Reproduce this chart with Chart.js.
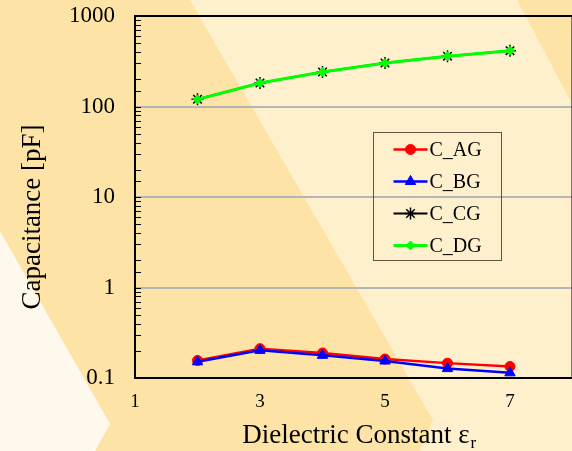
<!DOCTYPE html>
<html>
<head>
<meta charset="utf-8">
<script src="https://cdn.jsdelivr.net/npm/chart.js@4.4.1/dist/chart.umd.min.js"></script>
<style>
html, body { margin: 0; padding: 0; overflow: hidden; background: #FDE4A6; }
#wrap { width: 580px; height: 451px; }
</style>
</head>
<body>
<div id="wrap"><canvas id="capChart" width="580" height="451"></canvas></div>
<script>
// values
var epsilon = [2, 3, 4, 5, 6, 7];
var cAG = [0.156, 0.211, 0.189, 0.162, 0.146, 0.134];
var cBG = [0.151, 0.202, 0.178, 0.154, 0.127, 0.114];
var cCG = [120, 182, 241, 302, 360, 414];
var cDG = [120, 182, 241, 302, 360, 414];
var seriesNames = ['C_AG', 'C_BG', 'C_CG', 'C_DG'];
var xTickValues = [1, 3, 5, 7];

var serif = "'Liberation Serif', 'Times New Roman', serif";

function pts(ys) {
  return epsilon.map(function (x, i) { return { x: x, y: ys[i] }; });
}

function poly(ctx, p) {
  ctx.beginPath();
  ctx.moveTo(p[0][0], p[0][1]);
  for (var i = 1; i < p.length; i++) ctx.lineTo(p[i][0], p[i][1]);
  ctx.closePath();
  ctx.fill();
}

// slide background stripes
var stripes = {
  id: 'stripes',
  beforeDraw: function (chart) {
    var ctx = chart.ctx, w = chart.width, h = chart.height;
    ctx.save();
    ctx.fillStyle = '#FDE4A6';
    ctx.fillRect(0, 0, w, h);
    ctx.fillStyle = '#FEF0CD';
    poly(ctx, [[190, 0], [w, 0], [w, h], [420, h], [433, 420]]);
    ctx.fillStyle = '#FDE4A6';
    poly(ctx, [[517, 0], [w, 0], [w, 119]]);
    ctx.fillStyle = '#FEF9EC';
    poly(ctx, [[0, 231], [110, 424], [95, h], [0, h]]);
    ctx.restore();
  }
};

function isDecade(v) {
  var l = Math.log10(v);
  return Math.abs(l - Math.round(l)) < 1e-9;
}

// plot frame + inward minor ticks
var frame = {
  id: 'frame',
  beforeDatasetsDraw: function (chart) {
    var ctx = chart.ctx, a = chart.chartArea, ys = chart.scales.y;
    ctx.save();
    ctx.strokeStyle = '#000';
    ctx.lineWidth = 1;
    ys.ticks.forEach(function (t) {
      var py = Math.round(ys.getPixelForValue(t.value)) + 0.5;
      ctx.beginPath();
      ctx.moveTo(a.left, py);
      ctx.lineTo(a.left + 6, py);
      ctx.stroke();
    });
    ctx.lineWidth = 2;
    ctx.strokeRect(a.left, a.top, a.right - a.left, a.bottom - a.top);
    ctx.restore();
  }
};

// axis titles and the boxed legend
var extras = {
  id: 'extras',
  afterDraw: function (chart) {
    var ctx = chart.ctx, a = chart.chartArea;
    ctx.save();
    ctx.fillStyle = '#000';

    // y title
    ctx.font = '27px ' + serif;
    ctx.textAlign = 'center';
    ctx.textBaseline = 'alphabetic';
    ctx.translate(40, 217);
    ctx.rotate(-Math.PI / 2);
    ctx.fillText('Capacitance [pF]', 0, 0);
    ctx.setTransform(1, 0, 0, 1, 0, 0);

    // x title with subscript r
    var main = 'Dielectric Constant \u03b5';
    ctx.font = '27px ' + serif;
    var w1 = ctx.measureText(main).width;
    ctx.font = '17px ' + serif;
    var w2 = ctx.measureText('r').width;
    var cx = (a.left + a.right) / 2 + 5;
    var x0 = cx - (w1 + w2) / 2;
    ctx.textAlign = 'left';
    ctx.font = '27px ' + serif;
    ctx.fillText(main, x0, a.bottom + 65);
    ctx.font = '17px ' + serif;
    ctx.fillText('r', x0 + w1 + 1, a.bottom + 70);

    // legend
    var lx = a.left + 238.5, ly = a.top + 116.5, lw = 128, lh = 128;
    ctx.strokeStyle = '#5e5545';
    ctx.lineWidth = 1;
    ctx.strokeRect(lx, ly, lw, lh);
    ctx.font = '20px ' + serif;
    ctx.textBaseline = 'middle';
    chart.data.datasets.forEach(function (ds, i) {
      var ry = ly + 17 + i * 32;
      ctx.strokeStyle = ds.borderColor;
      ctx.lineWidth = ds.borderWidth;
      ctx.beginPath();
      ctx.moveTo(lx + 20, ry);
      ctx.lineTo(lx + 54, ry);
      ctx.stroke();
      ctx.fillStyle = ds.pointBackgroundColor;
      ctx.strokeStyle = ds.pointBorderColor;
      ctx.lineWidth = ds.pointBorderWidth;
      Chart.helpers.drawPoint(ctx, {
        pointStyle: ds.pointStyle, radius: ds.pointRadius,
        rotation: 0, borderWidth: ds.pointBorderWidth
      }, lx + 37, ry);
      ctx.fillStyle = '#000';
      ctx.fillText(ds.label, lx + 56, ry + 1);
    });
    ctx.restore();
  }
};

var chart = new Chart('capChart', {
  type: 'line',
  data: {
    datasets: [
      {
        label: seriesNames[0], data: pts(cAG), order: 4,
        borderColor: '#ff0000', borderWidth: 2.5,
        pointStyle: 'circle', pointRadius: 5,
        pointBackgroundColor: '#ff0000', pointBorderColor: '#ff0000', pointBorderWidth: 1
      },
      {
        label: seriesNames[1], data: pts(cBG), order: 3,
        borderColor: '#0000ff', borderWidth: 2.5,
        pointStyle: 'triangle', pointRadius: 6,
        pointBackgroundColor: '#0000ff', pointBorderColor: '#0000ff', pointBorderWidth: 1
      },
      {
        label: seriesNames[2], data: pts(cCG), order: 2,
        borderColor: '#000000', borderWidth: 2,
        pointStyle: 'star', pointRadius: 6,
        pointBackgroundColor: '#000000', pointBorderColor: '#000000', pointBorderWidth: 1.5
      },
      {
        label: seriesNames[3], data: pts(cDG), order: 1,
        borderColor: '#00ff00', borderWidth: 3,
        pointStyle: 'rectRot', pointRadius: 4.5,
        pointBackgroundColor: '#00ff00', pointBorderColor: '#00ff00', pointBorderWidth: 1
      }
    ]
  },
  options: {
    responsive: false,
    animation: false,
    events: [],
    layout: { padding: { left: 0, right: 3, top: 16, bottom: 0 } },
    plugins: {
      legend: { display: false },
      tooltip: { enabled: false }
    },
    elements: { line: { tension: 0 } },
    scales: {
      x: {
        type: 'linear',
        min: 1,
        max: 8,
        afterBuildTicks: function (s) {
          s.ticks = xTickValues.map(function (v) { return { value: v }; });
        },
        afterFit: function (s) {
          s.height = 73;
          s.paddingLeft = 0; s.paddingRight = 0;
        },
        grid: { display: false, drawTicks: false },
        border: { display: false },
        ticks: {
          padding: 13,
          color: '#000',
          font: { family: serif, size: 19 },
          autoSkip: false,
          maxRotation: 0
        }
      },
      y: {
        type: 'logarithmic',
        min: 0.1,
        max: 1000,
        afterFit: function (s) {
          s.width = 135;
          s.paddingTop = 0; s.paddingBottom = 0;
        },
        border: { display: false },
        grid: {
          drawTicks: false,
          lineWidth: 2,
          color: function (c) {
            var v = c.tick && c.tick.value;
            if (!v || v <= 0.1 || v >= 1000) return 'rgba(0,0,0,0)';
            return isDecade(v) ? '#b4b4b4' : 'rgba(0,0,0,0)';
          }
        },
        ticks: {
          padding: 20,
          color: '#000',
          autoSkip: false,
          font: { family: serif, size: 23 },
          callback: function (v) { return isDecade(v) ? String(v) : ''; }
        }
      }
    }
  },
  plugins: [stripes, frame, extras]
});
</script>
</body>
</html>
